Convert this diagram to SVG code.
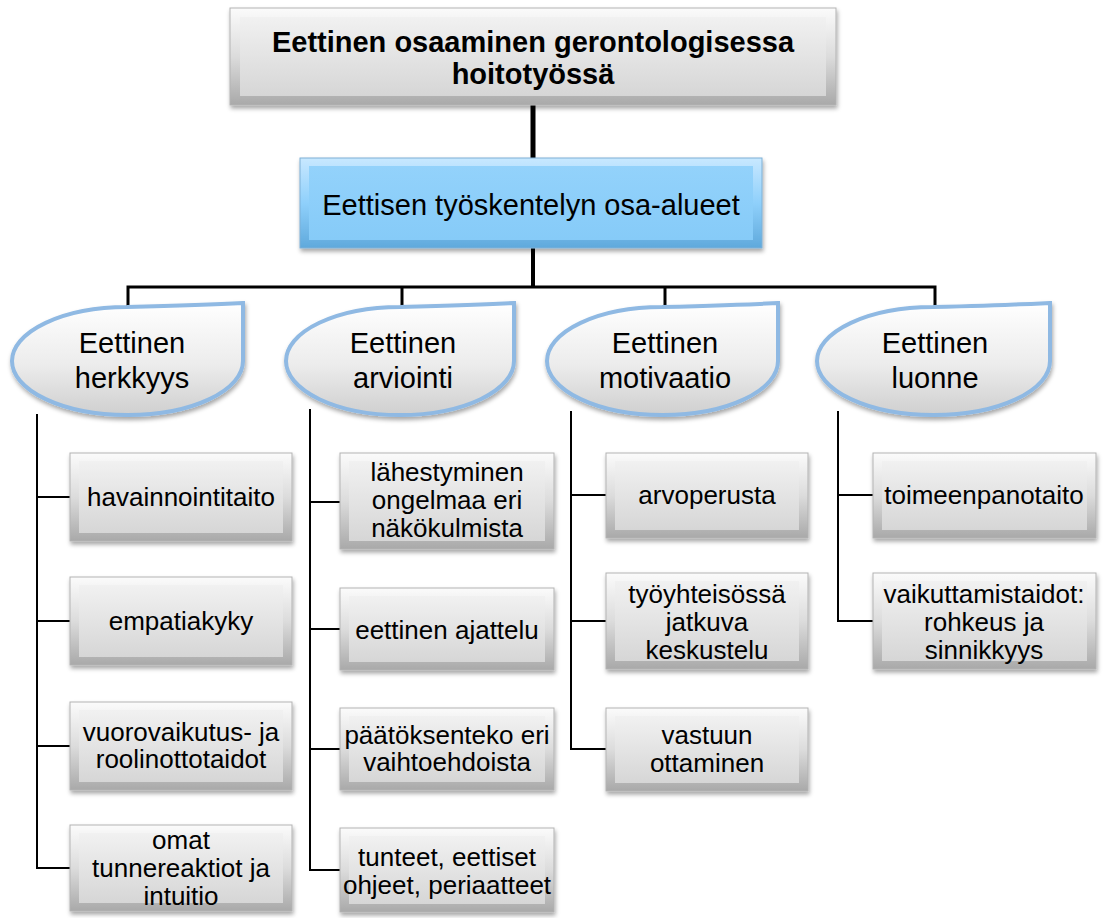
<svg xmlns="http://www.w3.org/2000/svg" width="1107" height="918" viewBox="0 0 1107 918">
<defs>
<linearGradient id="gOuter" x1="0" y1="0" x2="0" y2="1">
<stop offset="0" stop-color="#fbfbfb"/><stop offset="0.5" stop-color="#dcdcdc"/><stop offset="1" stop-color="#a9a9a9"/>
</linearGradient>
<linearGradient id="gInner" x1="0" y1="0" x2="0" y2="1">
<stop offset="0" stop-color="#f1f1f1"/><stop offset="1" stop-color="#d6d6d6"/>
</linearGradient>
<linearGradient id="gBlueOuter" x1="0" y1="0" x2="0" y2="1">
<stop offset="0" stop-color="#c8e8ff"/><stop offset="0.5" stop-color="#8fd0fb"/><stop offset="1" stop-color="#5fa9dc"/>
</linearGradient>
<linearGradient id="gBlueInner" x1="0" y1="0" x2="0" y2="1">
<stop offset="0" stop-color="#93d2fb"/><stop offset="1" stop-color="#86cbf8"/>
</linearGradient>
<linearGradient id="gOval" x1="0" y1="0" x2="0" y2="1">
<stop offset="0" stop-color="#ffffff"/><stop offset="0.55" stop-color="#ececec"/><stop offset="1" stop-color="#cfcfcf"/>
</linearGradient>
<filter id="sh" x="-10%" y="-10%" width="125%" height="130%">
<feDropShadow dx="1" dy="3" stdDeviation="2" flood-color="#000" flood-opacity="0.35"/>
</filter>
</defs>
<style>
.outer{fill:url(#gOuter);stroke:#b3b3b3;stroke-width:1;filter:url(#sh)}
.inner{fill:url(#gInner);stroke:none}
.bouter{fill:url(#gBlueOuter);stroke:#7fb0d6;stroke-width:1;filter:url(#sh)}
.binner{fill:url(#gBlueInner);stroke:none}
.oval{fill:url(#gOval);stroke:#8fb9e3;stroke-width:4;filter:url(#sh)}
text{font-family:"Liberation Sans",Arial,sans-serif;fill:#000;text-anchor:middle}
.t1{font-size:29px;font-weight:bold}
.t2{font-size:29px}
.t3{font-size:29px}
.t4{font-size:26px}
.c{fill:none;stroke:#000}
</style>

<g id="connectors">
<line class="c" x1="533" y1="105" x2="533" y2="158" stroke-width="5"/>
<line class="c" x1="533" y1="248" x2="533" y2="288" stroke-width="4"/>
<polyline class="c" points="128,310 128,287 935,287 935,310" stroke-width="3"/>
<line class="c" x1="402" y1="287" x2="402" y2="310" stroke-width="3"/>
<line class="c" x1="665" y1="287" x2="665" y2="310" stroke-width="3"/>
<polyline class="c" points="37,414 37,868 70,868" stroke-width="2"/>
<line class="c" x1="37" y1="497" x2="70" y2="497" stroke-width="2"/>
<line class="c" x1="37" y1="621" x2="70" y2="621" stroke-width="2"/>
<line class="c" x1="37" y1="746" x2="70" y2="746" stroke-width="2"/>
<polyline class="c" points="310,409 310,870 340,870" stroke-width="2"/>
<line class="c" x1="310" y1="502" x2="340" y2="502" stroke-width="2"/>
<line class="c" x1="310" y1="629" x2="340" y2="629" stroke-width="2"/>
<line class="c" x1="310" y1="749" x2="340" y2="749" stroke-width="2"/>
<polyline class="c" points="571,411 571,749 606,749" stroke-width="2"/>
<line class="c" x1="571" y1="495" x2="606" y2="495" stroke-width="2"/>
<line class="c" x1="571" y1="621" x2="606" y2="621" stroke-width="2"/>
<polyline class="c" points="838,411 838,621 873,621" stroke-width="2"/>
<line class="c" x1="838" y1="495" x2="873" y2="495" stroke-width="2"/>
</g>

<g id="root">
<rect class="outer" x="230" y="8" width="606" height="97"/>
<rect class="inner" x="240" y="17" width="586" height="79"/>
<text class="t1" x="533" y="52">Eettinen osaaminen gerontologisessa</text>
<text class="t1" x="533" y="84">hoitotyössä</text>
</g>

<g id="areas">
<rect class="bouter" x="300" y="158" width="462" height="90"/>
<rect class="binner" x="309" y="166" width="444" height="74"/>
<text class="t2" x="531" y="215">Eettisen työskentelyn osa-alueet</text>
</g>

<g id="herkkyys">
<path class="oval" d="M12,361 A115,54 0 0 1 127,307 Q205,305 243,303 L243,361 A115,54 0 0 1 127,415 A115,54 0 0 1 12,361 Z"/>
<text class="t3" x="132" y="353">Eettinen</text>
<text class="t3" x="132" y="388">herkkyys</text>
</g>
<g id="arviointi">
<path class="oval" d="M286,361 A114,54 0 0 1 400,307 Q477,305 514,303 L514,361 A114,54 0 0 1 400,415 A114,54 0 0 1 286,361 Z"/>
<text class="t3" x="403" y="353">Eettinen</text>
<text class="t3" x="403" y="388">arviointi</text>
</g>
<g id="motivaatio">
<path class="oval" d="M547,361 A115,54 0 0 1 662,307 Q740,305 778,303 L778,361 A115,54 0 0 1 662,415 A115,54 0 0 1 547,361 Z"/>
<text class="t3" x="665" y="353">Eettinen</text>
<text class="t3" x="665" y="388">motivaatio</text>
</g>
<g id="luonne">
<path class="oval" d="M817,361 A116,54 0 0 1 933,307 Q1011,305 1050,303 L1050,361 A116,54 0 0 1 933,415 A116,54 0 0 1 817,361 Z"/>
<text class="t3" x="935" y="353">Eettinen</text>
<text class="t3" x="935" y="388">luonne</text>
</g>

<g id="havainnointitaito">
<rect class="outer" x="70" y="453" width="222" height="88"/>
<rect class="inner" x="79" y="461" width="204" height="72"/>
<text class="t4" x="181" y="506">havainnointitaito</text>
</g>
<g id="empatiakyky">
<rect class="outer" x="70" y="577" width="222" height="88"/>
<rect class="inner" x="79" y="585" width="204" height="72"/>
<text class="t4" x="181" y="630">empatiakyky</text>
</g>
<g id="vuorovaikutus">
<rect class="outer" x="70" y="702" width="222" height="88"/>
<rect class="inner" x="79" y="710" width="204" height="72"/>
<text class="t4" x="181" y="741">vuorovaikutus- ja</text>
<text class="t4" x="181" y="768">roolinottotaidot</text>
</g>
<g id="tunnereaktiot">
<rect class="outer" x="70" y="825" width="222" height="86"/>
<rect class="inner" x="79" y="833" width="204" height="70"/>
<text class="t4" x="181" y="849">omat</text>
<text class="t4" x="181" y="877">tunnereaktiot ja</text>
<text class="t4" x="181" y="905">intuitio</text>
</g>

<g id="lahestyminen">
<rect class="outer" x="340" y="453" width="214" height="96"/>
<rect class="inner" x="349" y="461" width="196" height="80"/>
<text class="t4" x="447" y="481">lähestyminen</text>
<text class="t4" x="447" y="509">ongelmaa eri</text>
<text class="t4" x="447" y="537">näkökulmista</text>
</g>
<g id="ajattelu">
<rect class="outer" x="340" y="588" width="214" height="82"/>
<rect class="inner" x="349" y="596" width="196" height="66"/>
<text class="t4" x="447" y="639">eettinen ajattelu</text>
</g>
<g id="paatoksenteko">
<rect class="outer" x="340" y="708" width="214" height="82"/>
<rect class="inner" x="349" y="716" width="196" height="66"/>
<text class="t4" x="447" y="744">päätöksenteko eri</text>
<text class="t4" x="447" y="771">vaihtoehdoista</text>
</g>
<g id="tunteet">
<rect class="outer" x="340" y="828" width="214" height="84"/>
<rect class="inner" x="349" y="836" width="196" height="68"/>
<text class="t4" x="447" y="866">tunteet, eettiset</text>
<text class="t4" x="447" y="894">ohjeet, periaatteet</text>
</g>

<g id="arvoperusta">
<rect class="outer" x="606" y="453" width="202" height="85"/>
<rect class="inner" x="615" y="461" width="184" height="69"/>
<text class="t4" x="707" y="504">arvoperusta</text>
</g>
<g id="keskustelu">
<rect class="outer" x="606" y="573" width="202" height="96"/>
<rect class="inner" x="615" y="581" width="184" height="80"/>
<text class="t4" x="707" y="603">työyhteisössä</text>
<text class="t4" x="707" y="631">jatkuva</text>
<text class="t4" x="707" y="659">keskustelu</text>
</g>
<g id="vastuun">
<rect class="outer" x="606" y="708" width="202" height="83"/>
<rect class="inner" x="615" y="716" width="184" height="67"/>
<text class="t4" x="707" y="744">vastuun</text>
<text class="t4" x="707" y="772">ottaminen</text>
</g>

<g id="toimeenpanotaito">
<rect class="outer" x="873" y="453" width="223" height="85"/>
<rect class="inner" x="882" y="461" width="205" height="69"/>
<text class="t4" x="984" y="504">toimeenpanotaito</text>
</g>
<g id="vaikuttamistaidot">
<rect class="outer" x="873" y="573" width="223" height="96"/>
<rect class="inner" x="882" y="581" width="205" height="80"/>
<text class="t4" x="984" y="603">vaikuttamistaidot:</text>
<text class="t4" x="984" y="631">rohkeus ja</text>
<text class="t4" x="984" y="659">sinnikkyys</text>
</g>
</svg>
